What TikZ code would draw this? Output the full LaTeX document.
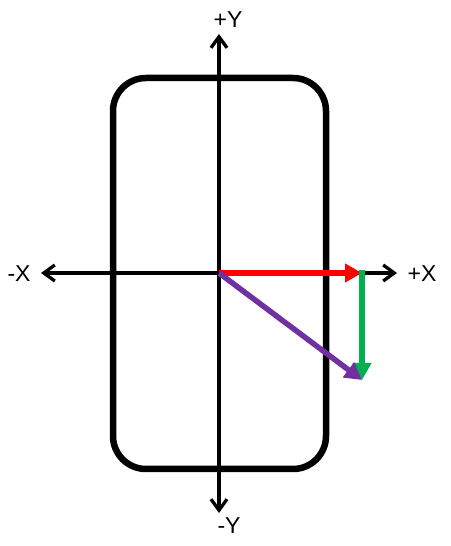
\documentclass[tikz,border=0pt]{standalone}
\usepackage{fontspec}
\setmainfont{Liberation Sans}
\usetikzlibrary{arrows.meta}
\definecolor{vred}{RGB}{255,0,0}
\definecolor{vgreen}{RGB}{0,176,80}
\definecolor{vpurple}{RGB}{112,48,160}
\begin{document}
\begin{tikzpicture}[x=1pt,y=1pt,
  axis/.style={line width=3.3pt,-{Straight Barb[length=11pt,width=16pt,line width=3.3pt]}},
  vec/.style={line width=5.5pt,-{Triangle[length=17pt,width=18pt]}},
  lbl/.style={font=\fontsize{23}{26}\selectfont,inner sep=0pt}]
\useasboundingbox (0,0) rectangle (450,546);
\draw[line width=6.5pt,rounded corners=33pt] (113,77) rectangle (326,468);
\coordinate (O) at (219,273);
\coordinate (px) at (397,273);
\coordinate (nx) at (41,273);
\coordinate (py) at (219,512);
\coordinate (ny) at (219,33);
\coordinate (R) at (362,273);
\coordinate (G) at (362,166);
\draw[axis] (O) -- (px);
\draw[axis] (O) -- (nx);
\draw[axis] (O) -- (py);
\draw[axis] (O) -- (ny);
\node[lbl] (lpx) at (422,272) {+X};
\node[lbl] (lnx) at (19,272) {-X};
\node[lbl] (lpy) at (228,526) {+Y};
\node[lbl] (lny) at (229,20) {-Y};
\draw[vec,vred] (O) -- (R);
\draw[vec,vgreen,shorten <=-2.75pt] (R) -- (G);
\draw[vec,vpurple] (O) -- (G);
\end{tikzpicture}
\end{document}
